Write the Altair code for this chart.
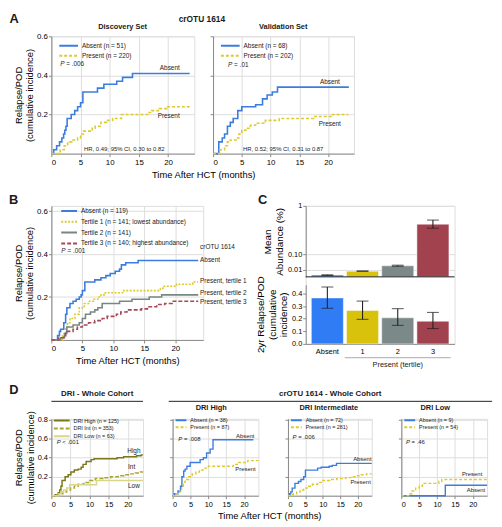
import altair as alt
import pandas as pd

FONT = "Liberation Sans"
BLACK = "#1a1a1a"

BLUE = "#3b7ddf"
YEL = "#dccb2c"
GRAY = "#788781"
MAROON = "#a64a57"
D_HIGH = "#7a771c"
D_INT = "#a9a532"
D_LOW = "#d9d68a"

# ---------------- Panel A data ----------------
disc_abs_t = [0, 0.4, 0.9, 1.4, 1.8, 2.1, 2.3, 2.5, 2.7, 3.4, 4.0, 4.5, 5.0, 5.4, 7.9, 9.0, 11.2, 12.2, 13.9, 23.7]
disc_abs_v = [0, 0.02, 0.04, 0.06, 0.08, 0.10, 0.12, 0.14, 0.18, 0.20, 0.22, 0.24, 0.26, 0.315, 0.335, 0.355, 0.37, 0.39, 0.41, 0.41]
disc_pre_t = [0, 1.5, 2.2, 2.8, 3.5, 4.5, 5.0, 5.5, 7.0, 7.5, 8.5, 9.5, 10.5, 12.0, 16.5, 17.2, 18.5, 19.8, 23.7]
disc_pre_v = [0, 0.02, 0.04, 0.06, 0.07, 0.08, 0.10, 0.115, 0.13, 0.14, 0.16, 0.17, 0.18, 0.20, 0.21, 0.22, 0.23, 0.24, 0.24]
valid_abs_t = [0, 1.0, 1.6, 2.0, 2.5, 3.0, 3.5, 4.3, 5.0, 7.4, 8.6, 9.4, 10.3, 11.2, 23.6]
valid_abs_v = [0, 0.06, 0.08, 0.10, 0.14, 0.16, 0.18, 0.22, 0.24, 0.25, 0.28, 0.30, 0.315, 0.34, 0.34]
valid_pre_t = [0, 1.2, 2.0, 2.5, 3.0, 4.0, 4.5, 5.0, 5.7, 6.5, 7.4, 9.1, 11.5, 17.5, 20.5, 23.5]
valid_pre_v = [0, 0.02, 0.04, 0.06, 0.07, 0.08, 0.10, 0.12, 0.13, 0.145, 0.155, 0.17, 0.18, 0.19, 0.20, 0.20]

# ---------------- Panel B data ----------------
b_abs_t = [0, 1.0, 1.3, 1.5, 2.0, 2.3, 2.5, 3.0, 3.5, 4.0, 4.5, 4.8, 5.0, 5.4, 7.0, 8.0, 8.8, 9.5, 10.3, 11.0, 11.3, 12.0, 14.0, 23.7]
b_abs_v = [0, 0.02, 0.04, 0.05, 0.08, 0.12, 0.15, 0.17, 0.18, 0.19, 0.20, 0.21, 0.23, 0.27, 0.28, 0.29, 0.30, 0.31, 0.32, 0.33, 0.35, 0.36, 0.37, 0.37]
b_t1_t = [0, 1.8, 2.3, 2.6, 3.0, 3.8, 4.5, 5.3, 6.0, 6.8, 7.5, 8.0, 8.7, 11.5, 17.6, 18.0, 20.2, 22.8, 23.7]
b_t1_v = [0, 0.02, 0.06, 0.08, 0.10, 0.12, 0.15, 0.17, 0.18, 0.19, 0.20, 0.21, 0.22, 0.23, 0.24, 0.25, 0.26, 0.27, 0.27]
b_t2_t = [0, 1.5, 2.1, 2.5, 3.5, 4.5, 5.0, 5.5, 6.3, 7.0, 7.5, 8.2, 11.0, 13.0, 15.8, 17.8, 23.7]
b_t2_v = [0, 0.01, 0.03, 0.06, 0.07, 0.08, 0.10, 0.12, 0.13, 0.14, 0.15, 0.17, 0.18, 0.19, 0.20, 0.21, 0.21]
b_t3_t = [0, 1.2, 2.0, 2.3, 3.5, 4.2, 5.0, 6.0, 7.0, 8.2, 9.0, 10.5, 11.2, 12.2, 14.5, 15.5, 17.0, 18.3, 19.5, 23.7]
b_t3_v = [0, 0.01, 0.02, 0.04, 0.05, 0.06, 0.07, 0.08, 0.09, 0.10, 0.11, 0.12, 0.13, 0.14, 0.145, 0.155, 0.165, 0.17, 0.18, 0.18]

# ---------------- Panel C data ----------------
c_cats = ["Absent", "1", "2", "3"]
c_colors = ["#2f7cf4", "#d8c20c", "#7b8a89", "#a3424f"]
abund_mean = [0.0006, 0.0065, 0.024, 0.55]
abund_lo = [0.0004, 0.0060, 0.022, 0.47]
abund_hi = [0.0008, 0.0070, 0.027, 0.64]
ci2yr = [0.365, 0.265, 0.207, 0.180]
ci2yr_lo = [0.283, 0.195, 0.147, 0.122]
ci2yr_hi = [0.452, 0.340, 0.280, 0.250]

# ---------------- Panel D data ----------------
dri_high_t = [0, 1.0, 1.8, 2.2, 2.5, 2.8, 3.6, 4.4, 5.1, 6.0, 7.0, 7.8, 8.3, 9.1, 10.4, 11.2, 17.2, 18.9, 22.3, 23.5, 24.0]
dri_high_v = [0, 0.01, 0.03, 0.06, 0.10, 0.16, 0.20, 0.22, 0.25, 0.27, 0.28, 0.30, 0.33, 0.36, 0.38, 0.39, 0.40, 0.41, 0.42, 0.43, 0.43]
dri_int_t = [0, 1.5, 2.0, 3.0, 4.0, 5.0, 6.0, 7.0, 8.5, 10.0, 11.5, 13.5, 15.5, 17.5, 19.0, 20.5, 22.0, 23.3, 24.0]
dri_int_v = [0, 0.01, 0.02, 0.04, 0.06, 0.08, 0.10, 0.12, 0.14, 0.16, 0.18, 0.19, 0.20, 0.21, 0.22, 0.23, 0.24, 0.25, 0.25]
dri_low_t = [0, 2.0, 2.5, 3.2, 4.0, 4.8, 11.8, 24.0]
dri_low_v = [0, 0.02, 0.04, 0.06, 0.08, 0.115, 0.16, 0.16]

dh_abs_t = [0, 0.5, 1.5, 2.2, 2.6, 3.1, 3.5, 4.0, 4.9, 7.7, 8.6, 9.5, 10.5, 11.3, 22.6]
dh_abs_v = [0, 0.02, 0.05, 0.10, 0.20, 0.26, 0.28, 0.31, 0.35, 0.38, 0.40, 0.45, 0.49, 0.59, 0.59]
dh_pre_t = [0, 1.0, 2.0, 2.5, 3.0, 3.5, 4.5, 5.5, 6.5, 7.5, 8.5, 10.0, 17.0, 18.5, 21.0, 24.0]
dh_pre_v = [0, 0.02, 0.06, 0.10, 0.14, 0.17, 0.20, 0.23, 0.25, 0.27, 0.29, 0.31, 0.33, 0.35, 0.37, 0.37]
di_abs_t = [0, 0.5, 0.8, 1.2, 2.0, 3.0, 3.7, 4.5, 5.0, 8.5, 9.5, 11.8, 12.7, 13.9, 24.0]
di_abs_v = [0, 0.02, 0.04, 0.08, 0.13, 0.15, 0.17, 0.20, 0.27, 0.29, 0.30, 0.31, 0.32, 0.34, 0.34]
di_pre_t = [0, 0.8, 1.5, 2.5, 3.5, 4.5, 5.5, 7.0, 8.5, 10.0, 12.0, 14.0, 16.5, 18.0, 19.5, 21.0, 22.5, 24.0]
di_pre_v = [0, 0.01, 0.02, 0.04, 0.06, 0.08, 0.10, 0.12, 0.14, 0.16, 0.17, 0.18, 0.19, 0.20, 0.21, 0.22, 0.23, 0.23]
dl_abs_t = [0, 12.3, 24.0]
dl_abs_v = [0, 0.11, 0.11]
dl_pre_t = [0, 1.8, 2.2, 3.0, 4.0, 5.0, 5.9, 10.5, 11.3, 24.0]
dl_pre_v = [0, 0.0, 0.02, 0.05, 0.08, 0.10, 0.13, 0.15, 0.17, 0.17]

YTITLE = ["Relapse/POD", "(cumulative incidence)"]
XTITLE = "Time After HCT (months)"
TS = 9.5  # axis title size


# annotation specs (text placed in data coordinates of its panel)
def T(s, x, y, size=6.5, align="center", weight="normal", style="normal", dx=0):
    return ("text", s, x, y, dict(fontSize=size, align=align, fontWeight=weight, fontStyle=style, dx=dx))


def R(x0, x1, y):
    return ("rule", x0, x1, y)


def P(x, y, rest, size=6.5):
    return [T("P", x, y, size, "left", style="italic"), T(rest, x, y, size, "left", dx=size * 0.95)]


def km(curves, xdom, ydom, w, h, yticks, ylabels, leg, anns, ytitle=None,
       xtitle=None, xtitle_x=None, lw=1.6, lab=8, tsize=TS):
    labels = [c[0] for c in curves]
    rows = []
    for lab_, ts, vs, col, dash in curves:
        for t, v in zip(ts, vs):
            rows.append({"t": t, "v": v, "grp": lab_})
    df = pd.DataFrame(rows)
    legend = alt.Legend(orient="none", legendX=leg["x"], legendY=leg["y"], title=None,
                        symbolType="stroke", symbolSize=leg["len"] ** 2, symbolStrokeWidth=2,
                        labelFontSize=leg["fs"], labelFont=FONT, clipHeight=leg["row"],
                        labelOffset=3, rowPadding=0, padding=0, labelColor=BLACK)
    xkw = dict(values=[0, 5, 10, 15, 20], labelFontSize=lab, labelPadding=2, tickSize=3,
               labelOverlap=False)
    if xtitle:
        xkw.update(title=xtitle, titleFontSize=tsize, titlePadding=3, titleFontWeight="normal")
        if xtitle_x is not None:
            xkw.update(titleX=xtitle_x)
    else:
        xkw.update(title=None)
    ykw = dict(values=yticks, format=".1f", labels=ylabels, labelFontSize=lab, tickSize=3,
               labelOverlap=False, labelPadding=1)
    if ytitle:
        ykw.update(title=ytitle, titleFontSize=tsize, titleLineHeight=11.5, titlePadding=2,
                   titleFontWeight="normal")
    else:
        ykw.update(title=None)
    xs = alt.Scale(domain=xdom, nice=False, zero=False)
    ys = alt.Scale(domain=ydom, nice=False)
    xax = alt.Axis(**xkw)
    yax = alt.Axis(**ykw)
    X = lambda f: alt.X(f, scale=xs, axis=xax)
    Y = lambda f: alt.Y(f, scale=ys, axis=yax)
    layers = [alt.Chart(df).mark_line(interpolate="step-after", strokeWidth=lw).encode(
        x=X("t:Q"), y=Y("v:Q"),
        color=alt.Color("grp:N", scale=alt.Scale(domain=labels, range=[c[3] for c in curves]), legend=legend),
        strokeDash=alt.StrokeDash("grp:N", scale=alt.Scale(domain=labels, range=[c[4] for c in curves]), legend=legend),
    )]
    for a in anns:
        if a[0] == "text":
            _, s, x, y, kw = a
            layers.append(alt.Chart(pd.DataFrame({"t": [x], "v": [y], "s": [s]})).mark_text(
                baseline="middle", color=BLACK, font=FONT, **kw).encode(x=X("t:Q"), y=Y("v:Q"), text="s:N"))
        else:
            _, x0, x1, y = a
            layers.append(alt.Chart(pd.DataFrame({"t": [x0], "t2": [x1], "v": [y]})).mark_rule(
                color="#222", strokeWidth=1).encode(x=X("t:Q"), x2="t2:Q", y=Y("v:Q")))
    return alt.layer(*layers).properties(width=w, height=h)


SOLID = [1, 0]
DASH_Y = [3, 2]

# ---------------- A ----------------
legA = dict(x=7, y=5, len=19, fs=6.5, row=9.3)
A1 = km([("Absent (n = 51)", disc_abs_t, disc_abs_v, BLUE, SOLID),
         ("Present (n = 220)", disc_pre_t, disc_pre_v, YEL, DASH_Y)],
        [0, 24.5], [0, 0.6], 145, 119, [0.2, 0.4, 0.6], True, legA,
        P(1.5, 0.458, "= .006") + [
            T("Absent", 20.3, 0.44), T("Present", 20.1, 0.19),
            T("HR, 0.49; 95% CI, 0.30 to 0.82", 5.6, 0.025, 6, "left"),
            T("Discovery Set", 12.2, 0.65, 7.5, weight="bold"),
            T("crOTU 1614", 25.8, 0.69, 8.5, weight="bold"),
            T("A", -6.4, 0.69, 13, weight="bold")],
        ytitle=YTITLE, xtitle=XTITLE, xtitle_x=154)
A2 = km([("Absent (n = 68)", valid_abs_t, valid_abs_v, BLUE, SOLID),
         ("Present (n = 202)", valid_pre_t, valid_pre_v, YEL, DASH_Y)],
        [0, 24.5], [0, 0.6], 143, 119, [0.2, 0.4, 0.6], False, legA,
        P(2.6, 0.453, "= .01") + [
            T("Absent", 20.3, 0.367), T("Present", 20.3, 0.15),
            T("HR, 0.52; 95% CI, 0.31 to 0.87", 5.2, 0.025, 6, "left"),
            T("Validation Set", 12.2, 0.65, 7.5, weight="bold")])

# ---------------- B ----------------
legB = dict(x=9, y=0, len=16, fs=6.5, row=10.2)
B = km([("Absent (n = 119)", b_abs_t, b_abs_v, BLUE, SOLID),
        ("Tertile 1 (n = 141; lowest abundance)", b_t1_t, b_t1_v, YEL, [2, 1.5]),
        ("Tertile 2 (n = 141)", b_t2_t, b_t2_v, GRAY, SOLID),
        ("Tertile 3 (n = 140; highest abundance)", b_t3_t, b_t3_v, MAROON, [4, 2])],
       [0, 24.5], [0, 0.625], 154, 136, [0.2, 0.4, 0.6], True, legB,
       P(1.6, 0.414, "= .001") + [
           T("crOTU 1614", 24.0, 0.432, align="left"),
           T("Absent", 24.0, 0.371, align="left"),
           T("Present, tertile 1", 24.0, 0.273, align="left"),
           T("Present, tertile 2", 24.0, 0.217, align="left"),
           T("Present, tertile 3", 24.0, 0.179, align="left"),
           T("B", -6.1, 0.653, 13, weight="bold"),
           T("C", 34.1, 0.653, 13, weight="bold")],
       ytitle=YTITLE, xtitle=XTITLE)

# ---------------- C (two stacked plots in one view) ----------------
cdf = pd.DataFrame({"cat": c_cats, "m": abund_mean, "lo": abund_lo, "hi": abund_hi,
                    "ci": ci2yr, "cilo": ci2yr_lo, "cihi": ci2yr_hi})
tert = cdf[cdf["cat"] != "Absent"].assign(yy=-0.11)
xband = alt.Scale(domain=c_cats, paddingInner=0.09, paddingOuter=0.16)
cx = alt.X("cat:N", scale=xband, sort=c_cats,
           axis=alt.Axis(labelFontSize=7.5, ticks=False, title=None, labelAngle=0, labelPadding=4))
ccolor = alt.Color("cat:N", scale=alt.Scale(domain=c_cats, range=c_colors), legend=None)
s1 = alt.Scale(type="sqrt", domain=[0, 1], range=[72, 0], nice=False)
s2 = alt.Scale(domain=[0, 0.47], range=[140, 80], nice=False)
cb = alt.Chart(cdf)
bar_style = dict(stroke="#ffffff", strokeWidth=0.8, strokeOpacity=0.6)
cap = dict(color="#222", size=12, thickness=1.1)
lab_df = pd.DataFrame({"cat": ["2"], "yy": [-0.165], "s": ["Present (tertile)"]})
base_df = pd.DataFrame({"cat": ["Absent"], "z": [0.0]})

C = alt.layer(
    cb.mark_bar(**bar_style).encode(
        x=cx, color=ccolor,
        y=alt.Y("m:Q", scale=s1,
                axis=alt.Axis(orient="left", values=[0.01, 0.1, 1], labelFontSize=7.5, tickSize=3,
                              labelOverlap=False, labelPadding=1,
                              labelExpr="datum.value == 1 ? '1' : format(datum.value, '.2f')",
                              title=["Mean", "Abundance (%)"], titleFontSize=10, titleLineHeight=12,
                              titlePadding=3, titleFontWeight="normal"))),
    cb.mark_rule(color="#222", strokeWidth=1.1).encode(
        x=cx, y=alt.Y("lo:Q", scale=s1, axis=None), y2="hi:Q"),
    cb.mark_tick(**cap).encode(x=cx, y=alt.Y("lo:Q", scale=s1, axis=None)),
    cb.mark_tick(**cap).encode(x=cx, y=alt.Y("hi:Q", scale=s1, axis=None)),
    alt.Chart(base_df).mark_rule(color=BLACK, strokeWidth=1).encode(y=alt.Y("z:Q", scale=s1, axis=None)),
    cb.mark_bar(**bar_style).encode(
        x=cx, color=ccolor,
        y=alt.Y("ci:Q", scale=s2,
                axis=alt.Axis(orient="left", values=[0, 0.1, 0.2, 0.3, 0.4], format=".1f",
                              labelFontSize=7.5, tickSize=3, labelOverlap=False, labelPadding=1,
                              title=["2yr Relapse/POD", "(cumulative", "incidence)"], titleFontSize=10,
                              titleLineHeight=11.5, titlePadding=3, titleFontWeight="normal"))),
    cb.mark_rule(color="#222", strokeWidth=1.1).encode(
        x=cx, y=alt.Y("cilo:Q", scale=s2, axis=None), y2="cihi:Q"),
    cb.mark_tick(**cap).encode(x=cx, y=alt.Y("cilo:Q", scale=s2, axis=None)),
    cb.mark_tick(**cap).encode(x=cx, y=alt.Y("cihi:Q", scale=s2, axis=None)),
    alt.Chart(tert).mark_tick(color="#a0a0a0", size=36, thickness=1.3).encode(
        x=cx, y=alt.Y("yy:Q", scale=s2, axis=None)),
    alt.Chart(lab_df).mark_text(fontSize=7.5, font=FONT, color=BLACK).encode(
        x=cx, y=alt.Y("yy:Q", scale=s2, axis=None), text="s:N"),
).resolve_scale(y="independent").properties(width=151, height=140)

# ---------------- D ----------------
YD = [0.2, 0.4, 0.6, 0.8]
legD1 = dict(x=1.5, y=-2, len=16, fs=5.5, row=7.6)
legD = dict(x=2, y=-2, len=11, fs=5.5, row=7.0)
D1 = km([("DRI High (n = 125)", dri_high_t, dri_high_v, D_HIGH, SOLID),
         ("DRI Int (n = 353)", dri_int_t, dri_int_v, D_INT, [4, 2]),
         ("DRI Low (n = 63)", dri_low_t, dri_low_v, D_LOW, SOLID)],
        [0, 24], [0, 0.81], 93, 78, YD, True, legD1,
        P(1.4, 0.57, "< .001", 6) + [
            T("High", 21.6, 0.47), T("Int", 21.0, 0.30), T("Low", 21.6, 0.104),
            T("DRI - Whole Cohort", 12, 1.066, 8, weight="bold"),
            R(0, 24, 0.994),
            T("D", -9.8, 1.11, 13, weight="bold")],
        ytitle=YTITLE, lw=1.5, lab=7.5)
D2 = km([("Absent (n = 38)", dh_abs_t, dh_abs_v, BLUE, SOLID),
         ("Present (n = 87)", dh_pre_t, dh_pre_v, YEL, DASH_Y)],
        [0, 24], [0, 0.81], 87, 78, YD, False, legD,
        P(1.6, 0.60, "= .008", 6) + [
            T("Absent", 20.3, 0.63, 6), T("Present", 20.4, 0.285, 6),
            T("DRI High", 10.8, 0.92, 7.5, weight="bold"),
            T("crOTU 1614 - Whole Cohort", 44.1, 1.066, 8, weight="bold"),
            R(-1.1, 89.4, 0.994)],
        xtitle=XTITLE, xtitle_x=98, lw=1.4, lab=7.5)
D3 = km([("Absent (n = 72)", di_abs_t, di_abs_v, BLUE, SOLID),
         ("Present (n = 281)", di_pre_t, di_pre_v, YEL, DASH_Y)],
        [0, 24], [0, 0.81], 85, 78, YD, False, legD,
        P(1.3, 0.62, "= .006", 6) + [
            T("Absent", 21.3, 0.39, 6), T("Present", 20.8, 0.14, 6),
            T("DRI Intermediate", 11.7, 0.92, 7.5, weight="bold")],
        lw=1.4, lab=7.5)
D4 = km([("Absent (n = 9)", dl_abs_t, dl_abs_v, BLUE, SOLID),
         ("Present (n = 54)", dl_pre_t, dl_pre_v, YEL, DASH_Y)],
        [0, 24], [0, 0.81], 87, 78, YD, False, legD,
        P(1.3, 0.57, "= .46", 6) + [
            T("Present", 19.8, 0.226, 6), T("Absent", 20.9, 0.06, 6),
            T("DRI Low", 9.5, 0.92, 7.5, weight="bold")],
        lw=1.4, lab=7.5)

IND = dict(color="independent", strokeDash="independent")

rowA = alt.hconcat(A1, A2, spacing=19, bounds="flush").resolve_scale(**IND)
rowBC = alt.hconcat(B, C, spacing=104, bounds="flush").resolve_scale(**IND)
rowD = alt.hconcat(D1, D2, D3, D4, spacing=30, bounds="flush").resolve_scale(**IND)
topAB = alt.vconcat(rowA, rowBC, spacing=14).resolve_scale(**IND)
chart = alt.vconcat(topAB, rowD, spacing=14).resolve_scale(**IND).properties(padding=0)

chart = chart.configure_view(stroke=None).configure_axis(
    labelFont=FONT, labelColor=BLACK, tickColor=BLACK, domainColor=BLACK, grid=False,
    titleFont=FONT, titleFontWeight="normal", titleColor=BLACK, domainWidth=1, tickWidth=1
).configure(font=FONT, padding=0)

chart.save("out.html", embed_options={"renderer": "svg", "actions": False})
